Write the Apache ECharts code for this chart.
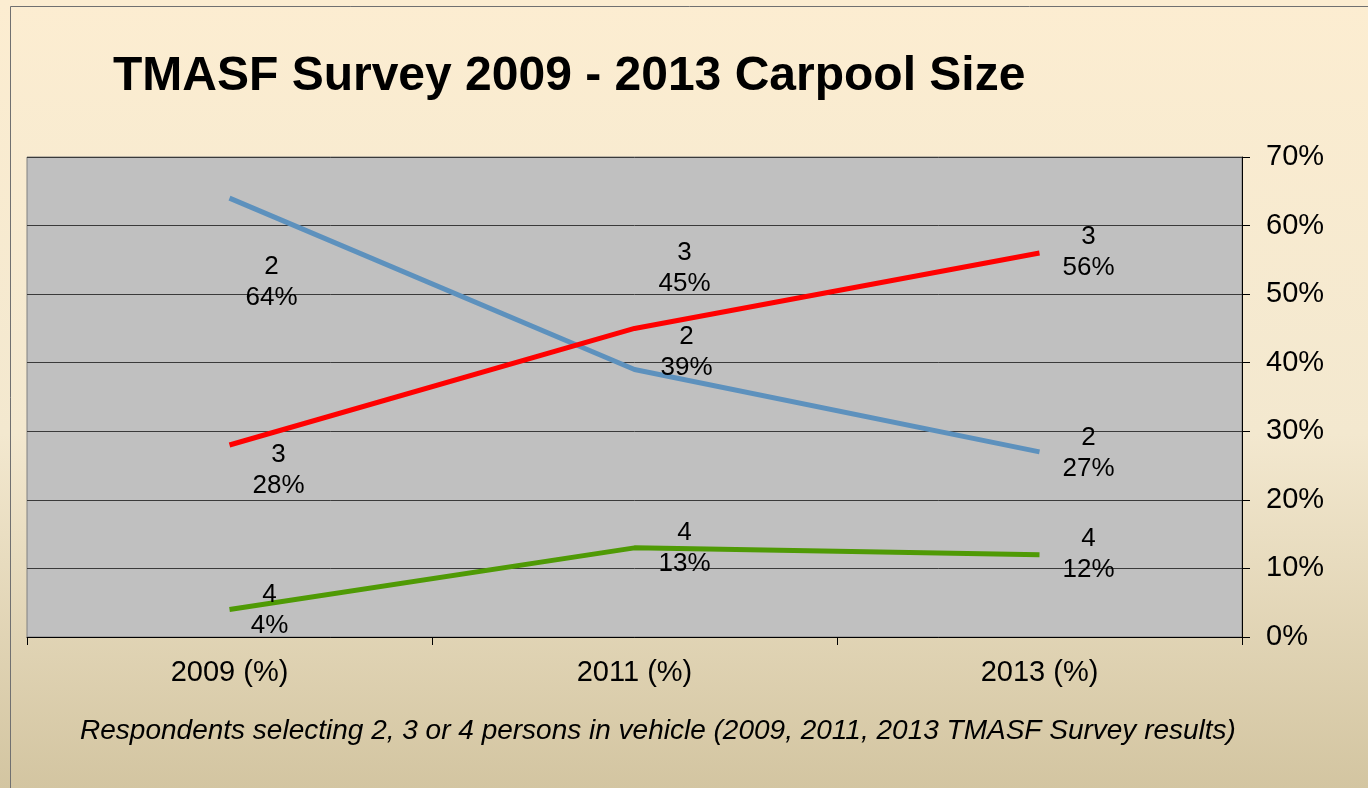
<!DOCTYPE html>
<html>
<head>
<meta charset="utf-8">
<script src="https://cdn.jsdelivr.net/npm/echarts@6/dist/echarts.min.js"></script>
<style>html,body{margin:0;padding:0;}#c{width:1368px;height:788px;}</style>
</head>
<body>
<div id="c"></div>
<script>
const categories = ['2009 (%)', '2011 (%)', '2013 (%)'];
const seriesNames = ['2', '3', '4'];
const values2 = [64, 39, 27];
const values3 = [28, 45, 56];
const values4 = [4, 13, 12];
const yTicks = [0, 10, 20, 30, 40, 50, 60, 70];
const titleText = 'TMASF Survey 2009 - 2013 Carpool Size';
const noteText = 'Respondents selecting 2, 3 or 4 persons in vehicle (2009, 2011, 2013 TMASF Survey results)';

const FONT = '"Liberation Sans", Arial, sans-serif';
const offsets2 = [[42, 84], [52, -17], [49, 1]];
const offsets3 = [[49, 25], [50, -60], [49, -1]];
const offsets4 = [[40, 1], [50, 0], [49, 0]];

function mk(vals, offs) {
  return vals.map((v, i) => ({ value: v, label: { offset: offs[i] } }));
}
function series(name, vals, offs, color) {
  return {
    name: name, type: 'line', data: mk(vals, offs),
    symbol: 'circle', symbolSize: 0.1, showSymbol: true,
    lineStyle: { color: color, width: 5 },
    itemStyle: { color: color },
    label: {
      show: true, position: 'inside', color: '#000',
      fontFamily: FONT, fontSize: 26, lineHeight: 31,
      formatter: p => p.seriesName + '\n' + p.value + '%'
    },
    emphasis: { disabled: true }, animation: false, z: 3
  };
}

const chart = echarts.init(document.getElementById('c'));
chart.setOption({
  animation: false,
  backgroundColor: {
    type: 'linear', x: 0, y: 0, x2: 0, y2: 1,
    colorStops: [{ offset: 0, color: '#FCEDD1' }, { offset: 0.55, color: '#F3E8CF' }, { offset: 1, color: '#D3C5A1' }]
  },
  grid: { left: 27, right: 126, top: 157, bottom: 151, show: true, backgroundColor: '#C0C0C0', borderColor: '#808080', borderWidth: 1 },
  xAxis: {
    type: 'category', data: categories, boundaryGap: true,
    axisLine: { lineStyle: { color: '#000', width: 1 } },
    axisTick: { show: true, length: 8, lineStyle: { color: '#000' } },
    axisLabel: { color: '#000', fontFamily: FONT, fontSize: 29, margin: 21 },
    splitLine: { show: false }
  },
  yAxis: {
    type: 'value', position: 'right', min: yTicks[0], max: yTicks[yTicks.length - 1], interval: 10,
    axisLine: { show: true, lineStyle: { color: '#000', width: 1 } },
    axisTick: { show: true, length: 8, lineStyle: { color: '#000' } },
    axisLabel: { color: '#000', fontFamily: FONT, fontSize: 29, margin: 24, formatter: '{value}%' },
    splitLine: { show: true, lineStyle: { color: '#3a3a3a', width: 1 } }
  },
  series: [
    series(seriesNames[0], values2, offsets2, '#5D91BD'),
    series(seriesNames[1], values3, offsets3, '#FF0000'),
    series(seriesNames[2], values4, offsets4, '#4F9A05')
  ],
  graphic: [
    { type: 'rect', shape: { x: 10.5, y: 6.5, width: 1400, height: 900 }, style: { fill: 'none', stroke: '#707070', lineWidth: 1 }, z: -1, silent: true },
    { type: 'text', left: 113, top: 53, style: { text: titleText, font: 'bold 48px ' + FONT, fill: '#000' } },
    { type: 'text', x: 658, y: 731, style: { text: noteText, font: 'italic 28px ' + FONT, fill: '#000', textAlign: 'center', textVerticalAlign: 'middle' } }
  ]
});
</script>
</body>
</html>
